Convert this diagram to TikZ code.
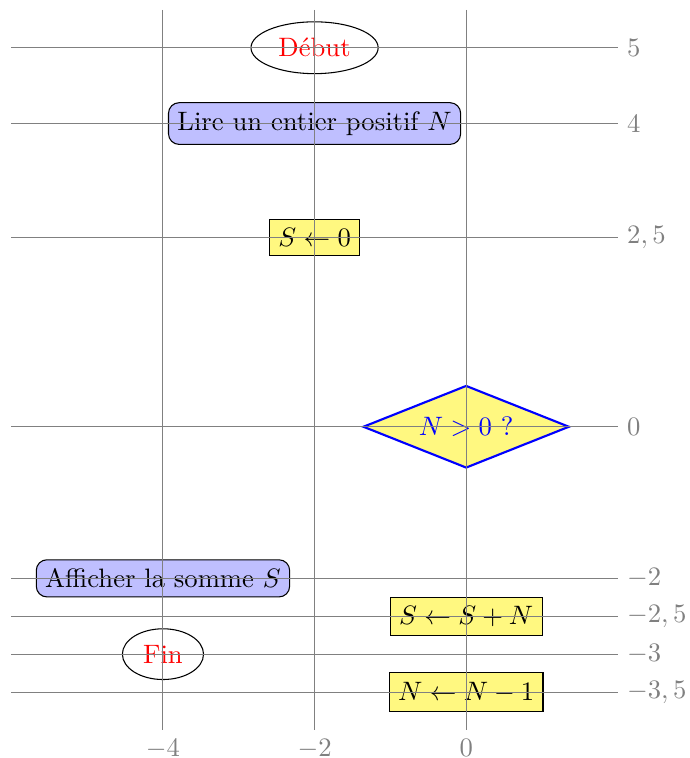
\documentclass[tikz,border=0pt]{standalone}
\usepackage{amsmath, amssymb}
\usetikzlibrary{shapes.geometric}

\begin{document}
\begin{tikzpicture}[
  terminal/.style={ellipse, draw, text=red},
  io/.style={rectangle, rounded corners, draw, fill=blue!25},
  instr/.style={rectangle, draw, fill=yellow!50},
  test/.style={diamond, aspect=2.5, draw=blue, thick, fill=yellow!50, text=blue},
  rule/.style={gray},
  ylab/.style={right, text=gray},
  xlab/.style={below, text=gray},
]
\useasboundingbox (-6.15,-4.37) rectangle (2.94,5.63);

\node[terminal] (debut) at (-2, 5) {Début};
\node[io] (lire) at (-2, 4) {Lire un entier positif $N$};
\node[instr] (init) at (-2, 2.5) {$S \leftarrow 0$};
\node[test] (cond) at (0, 0) {$N>0$ ?};
\node[io] (afficher) at (-4, -2) {Afficher la somme $S$};
\node[instr] (somme) at (0, -2.5) {$S \leftarrow S+N$};
\node[terminal] (fin) at (-4, -3) {Fin};
\node[instr] (decr) at (0, -3.5) {$N \leftarrow N-1$};

% repere
\draw[rule] (-6, 5) -- (2, 5) node[ylab] (y5) {$5$};
\draw[rule] (-6, 4) -- (2, 4) node[ylab] (y4) {$4$};
\draw[rule] (-6, 2.5) -- (2, 2.5) node[ylab] (y25) {$2,5$};
\draw[rule] (-6, 0) -- (2, 0) node[ylab] (y0) {$0$};
\draw[rule] (-6, -2) -- (2, -2) node[ylab] (ym2) {$-2$};
\draw[rule] (-6, -2.5) -- (2, -2.5) node[ylab] (ym25) {$-2,5$};
\draw[rule] (-6, -3) -- (2, -3) node[ylab] (ym3) {$-3$};
\draw[rule] (-6, -3.5) -- (2, -3.5) node[ylab] (ym35) {$-3,5$};

\draw[rule] (-4, 5.5) -- (-4, -4) node[xlab] (xm4) {$-4$};
\draw[rule] (-2, 5.5) -- (-2, -4) node[xlab] (xm2) {$-2$};
\draw[rule] (0, 5.5) -- (0, -4) node[xlab] (x0) {$0$};

\end{tikzpicture}
\end{document}
